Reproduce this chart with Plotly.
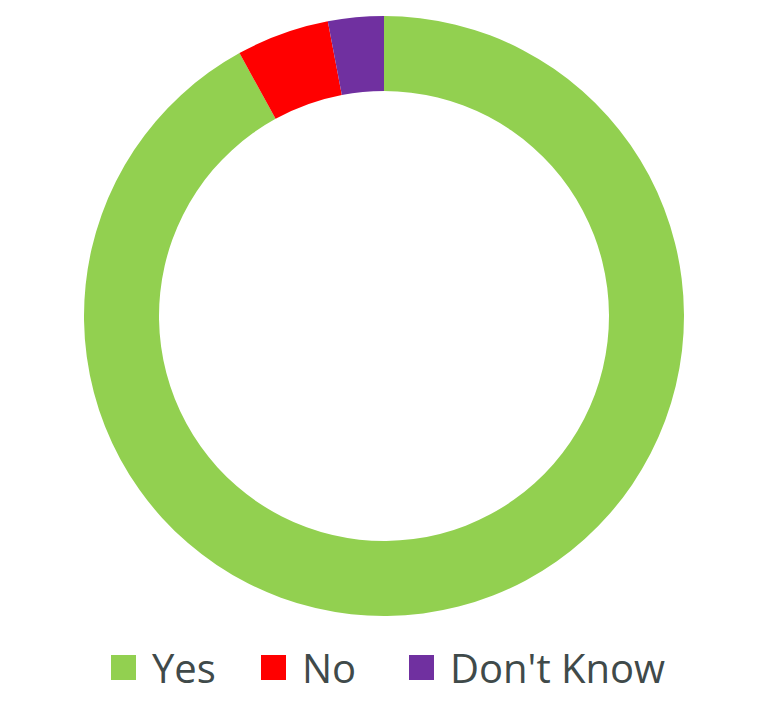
import plotly.graph_objects as go

labels = ["Yes", "No", "Don't Know"]
values = [92, 5, 3]
colors = ["#92D050", "#FF0000", "#7030A0"]

W, H = 768, 711
off = 8  # page body margin compensation
cx, cy, r = 384 - off, 316 - off, 300

fig = go.Figure(go.Pie(
    labels=labels, values=values, hole=0.75, sort=False, direction="clockwise",
    rotation=0, textinfo="none", hoverinfo="label+percent",
    marker=dict(colors=colors, line=dict(width=0)),
    domain=dict(x=[(cx - r) / W, (cx + r) / W], y=[1 - (cy + r) / H, 1 - (cy - r) / H]),
    showlegend=False,
))

# manual legend (large squares as in reference)
leg_x = [111 - off, 261 - off, 409 - off]
sq = 25
leg_top = 655 - off
for i, (lab, col) in enumerate(zip(labels, colors)):
    x0 = leg_x[i]
    fig.add_shape(type="rect", xref="paper", yref="paper",
                  x0=x0 / W, x1=(x0 + sq) / W,
                  y0=1 - (leg_top + sq) / H, y1=1 - leg_top / H,
                  fillcolor=col, line=dict(width=0))
    fig.add_annotation(text=lab, xref="paper", yref="paper",
                       x=(x0 + sq + 14) / W, y=1 - (leg_top + sq / 2) / H,
                       xanchor="left", yanchor="middle", showarrow=False,
                       font=dict(family="Open Sans", size=40, color="#404A4A"))

fig.update_layout(width=W, height=H, margin=dict(l=0, r=0, t=0, b=0),
                  paper_bgcolor="white", plot_bgcolor="white")
fig.write_html("out.html")
